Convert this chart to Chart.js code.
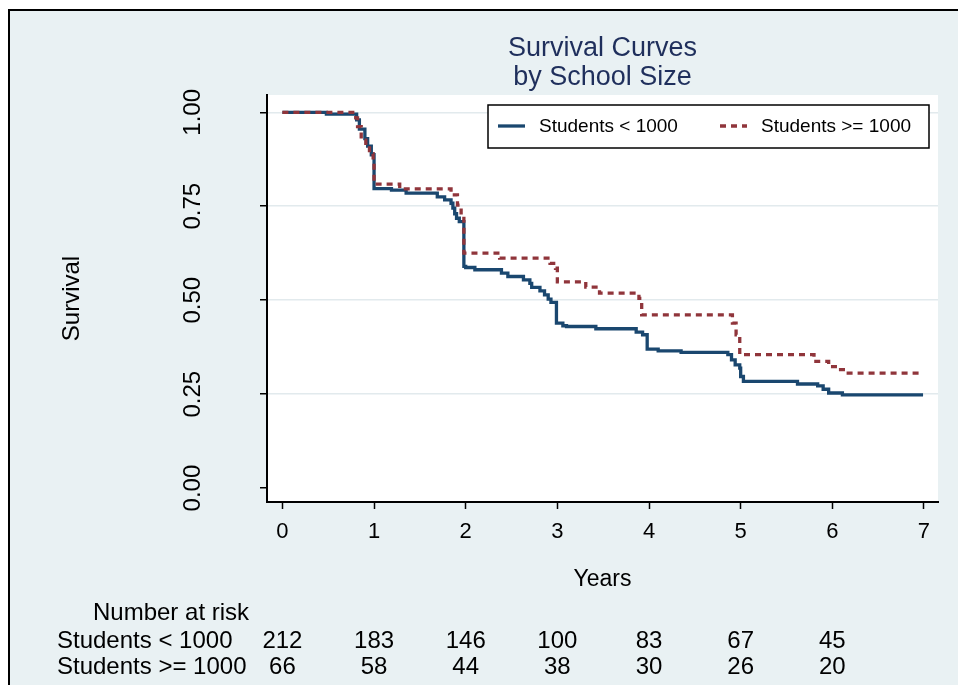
<!DOCTYPE html>
<html>
<head>
<meta charset="utf-8">
<title>Survival Curves by School Size</title>
<script src="https://cdn.jsdelivr.net/npm/chart.js@4.4.1/dist/chart.umd.min.js"></script>
<style>
  html, body { margin: 0; padding: 0; background: #fff; }
  canvas { display: block; }
</style>
</head>
<body>
<canvas id="chart-survival" width="958" height="685"></canvas>
<script>
// Kaplan-Meier steps (years, survival)
const small_times = [0, 0.48, 0.81, 0.84, 0.90, 0.93, 0.97, 1.00, 1.19, 1.35, 1.69, 1.77, 1.84, 1.86, 1.88, 1.90, 1.93, 1.98, 2.00, 2.10,
  2.39, 2.46, 2.63, 2.70, 2.72, 2.81, 2.86, 2.90, 2.93, 2.99, 3.06, 3.10, 3.42, 3.86, 3.93, 3.98, 4.10, 4.35, 4.86, 4.90,
  4.94, 4.99, 5.00, 5.03, 5.62, 5.84, 5.90, 5.96, 6.11, 6.99];
const small_surv = [1.000, 0.995, 0.980, 0.955, 0.930, 0.910, 0.887, 0.797, 0.793, 0.785, 0.775, 0.767, 0.758, 0.745, 0.730, 0.718, 0.709, 0.590, 0.587, 0.581,
  0.572, 0.563, 0.554, 0.545, 0.534, 0.525, 0.514, 0.503, 0.494, 0.439, 0.432, 0.430, 0.424, 0.415, 0.408, 0.370, 0.365, 0.361, 0.355, 0.341,
  0.328, 0.319, 0.297, 0.284, 0.277, 0.272, 0.263, 0.253, 0.248, 0.248];

const large_times = [0, 0.80, 0.82, 0.86, 0.91, 0.95, 0.99, 1.00, 1.28, 1.84, 1.91, 1.95, 1.98, 2.37, 2.92, 2.98, 3.00, 3.31, 3.46, 3.89,
  3.92, 4.91, 4.95, 4.99, 5.80, 5.96, 6.09, 6.15, 6.97];
const large_surv = [1.000, 0.985, 0.962, 0.926, 0.913, 0.890, 0.873, 0.809, 0.796, 0.780, 0.753, 0.727, 0.625, 0.612, 0.598, 0.585, 0.549, 0.535, 0.519, 0.505,
  0.461, 0.439, 0.408, 0.355, 0.337, 0.323, 0.315, 0.306, 0.306];

const x_ticks = [0, 1, 2, 3, 4, 5, 6, 7];
const y_ticks = [0, 0.25, 0.5, 0.75, 1];

// number at risk table
const risk_times = [0, 1, 2, 3, 4, 5, 6];
const risk_small = [212, 183, 146, 100, 83, 67, 45];
const risk_large = [66, 58, 44, 38, 30, 26, 20];

const group_labels = ['Students < 1000', 'Students >= 1000'];

const font_family = "'Liberation Sans', Arial, sans-serif";

function toPoints(times, surv) {
  return times.map((t, i) => ({ x: t, y: surv[i] }));
}

// light stata-like background with a frame, white plot region
const stataBackground = {
  id: 'stataBackground',
  beforeDraw(chart) {
    const { ctx, chartArea, width, height } = chart;
    ctx.save();
    ctx.fillStyle = '#ffffff';
    ctx.fillRect(0, 0, width, height);
    ctx.fillStyle = '#E9F1F3';
    ctx.fillRect(9, 10, width + 20, height + 20);
    ctx.strokeStyle = '#000000';
    ctx.lineWidth = 2;
    ctx.strokeRect(9, 10, width + 20, height + 20);
    ctx.fillStyle = '#ffffff';
    ctx.fillRect(chartArea.left, chartArea.top, chartArea.right - chartArea.left, chartArea.bottom - chartArea.top);
    ctx.restore();
  }
};

// boxed legend inside the plot, top right
const stataLegend = {
  id: 'stataLegend',
  afterDraw(chart) {
    const { ctx, chartArea } = chart;
    const right = chartArea.right - 9;
    const left = right - 441;
    const top = chartArea.top + 10;
    const h = 43;
    ctx.save();
    ctx.fillStyle = '#ffffff';
    ctx.fillRect(left, top, right - left, h);
    ctx.strokeStyle = '#000000';
    ctx.lineWidth = 1.5;
    ctx.strokeRect(left, top, right - left, h);
    chart.data.datasets.forEach((ds, i) => {
      const x0 = left + 10 + i * 222;
      const y = top + 21;
      ctx.strokeStyle = ds.borderColor;
      ctx.lineWidth = ds.borderWidth;
      ctx.setLineDash(ds.borderDash || []);
      ctx.beginPath();
      ctx.moveTo(x0, y);
      ctx.lineTo(x0 + 27, y);
      ctx.stroke();
      ctx.setLineDash([]);
      ctx.fillStyle = '#000000';
      ctx.font = '19px ' + font_family;
      ctx.textBaseline = 'middle';
      ctx.textAlign = 'left';
      ctx.fillText(ds.label, x0 + 41, y + 1);
    });
    ctx.restore();
  }
};

// number at risk rows, placed on the x scale
const riskTable = {
  id: 'riskTable',
  afterDraw(chart) {
    const { ctx } = chart;
    const xs = chart.scales.x;
    ctx.save();
    ctx.fillStyle = '#000000';
    ctx.font = '24px ' + font_family;
    ctx.textBaseline = 'alphabetic';
    ctx.textAlign = 'left';
    ctx.fillText('Number at risk', 93, 620);
    ctx.fillText(group_labels[0], 57, 648);
    ctx.fillText(group_labels[1], 57, 674);
    ctx.textAlign = 'center';
    risk_times.forEach((t, i) => {
      const px = xs.getPixelForValue(t);
      ctx.fillText(String(risk_small[i]), px, 648);
      ctx.fillText(String(risk_large[i]), px, 674);
    });
    ctx.restore();
  }
};

const ctx = document.getElementById('chart-survival');
const chart = new Chart(ctx, {
  type: 'line',
  data: {
    datasets: [
      {
        label: group_labels[0],
        data: toPoints(small_times, small_surv),
        borderColor: '#1A476F',
        borderWidth: 3.3,
        stepped: true,
        pointRadius: 0,
        fill: false,
        order: 1
      },
      {
        label: group_labels[1],
        data: toPoints(large_times, large_surv),
        borderColor: '#90353B',
        borderWidth: 3.3,
        borderDash: [6, 5],
        stepped: true,
        pointRadius: 0,
        fill: false,
        order: 0
      }
    ]
  },
  options: {
    responsive: false,
    animation: false,
    events: [],
    layout: { padding: { left: 0, right: 20, top: 0, bottom: 0 } },
    scales: {
      x: {
        type: 'linear',
        min: -0.168,
        max: 7.153,
        afterBuildTicks: (scale) => { scale.ticks = x_ticks.map(v => ({ value: v })); },
        afterFit: (scale) => { scale.height = 183; },
        grid: { drawOnChartArea: false, tickLength: 7, tickColor: '#000000', tickWidth: 1.5 },
        border: { color: '#000000', width: 2 },
        ticks: {
          color: '#000000',
          padding: 10,
          maxRotation: 0,
          font: { family: font_family, size: 22 },
          callback: (v) => String(v)
        },
        title: {
          display: true,
          text: 'Years',
          color: '#000000',
          font: { family: font_family, size: 23 },
          padding: { top: 0, bottom: 92 }
        }
      },
      y: {
        type: 'linear',
        min: -0.037,
        max: 1.046,
        afterBuildTicks: (scale) => { scale.ticks = y_ticks.map(v => ({ value: v })); },
        afterFit: (scale) => { scale.width = 267; },
        grid: {
          color: (c) => (c.tick && c.tick.value === 0) ? 'rgba(0,0,0,0)' : '#E2EAED',
          lineWidth: 1.5,
          tickLength: 7,
          tickColor: '#000000',
          tickWidth: 1.5
        },
        border: { color: '#000000', width: 2 },
        ticks: {
          color: '#000000',
          minRotation: 90,
          maxRotation: 90,
          crossAlign: 'center',
          padding: 43,
          font: { family: font_family, size: 24 },
          callback: (v) => Number(v).toFixed(2)
        },
        title: {
          display: true,
          text: 'Survival',
          color: '#000000',
          font: { family: font_family, size: 24 },
          padding: { top: 58, bottom: 0 }
        }
      }
    },
    plugins: {
      legend: { display: false },
      tooltip: { enabled: false },
      title: {
        display: true,
        fullSize: false,
        text: ['Survival Curves', 'by School Size'],
        color: '#1F2F5C',
        font: { family: font_family, size: 27, weight: 'normal', lineHeight: '29px' },
        padding: { top: 34, bottom: 3 }
      }
    }
  },
  plugins: [stataBackground, stataLegend, riskTable]
});
</script>
</body>
</html>
